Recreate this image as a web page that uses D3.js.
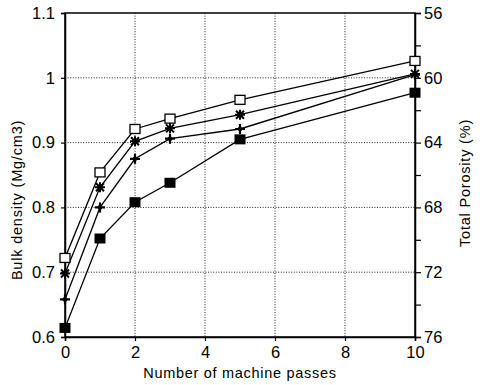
<!DOCTYPE html>
<html><head><meta charset="utf-8">
<script src="https://cdn.jsdelivr.net/npm/d3@7"></script>
<style>body{margin:0;background:#fff;} svg{display:block;}</style>
</head><body><svg id="c" width="480" height="385"></svg>
<script>
const passes = [0, 1, 2, 3, 5, 10];
const seriesOpenSquare = [0.722, 0.854, 0.921, 0.937, 0.966, 1.026];
const seriesAsterisk   = [0.698, 0.831, 0.902, 0.922, 0.943, 1.006];
const seriesPlus       = [0.658, 0.800, 0.875, 0.906, 0.921, 1.005];
const seriesFilled     = [0.614, 0.752, 0.808, 0.838, 0.905, 0.977];
const xTicks = [0, 2, 4, 6, 8, 10];
const yTicks = [0.6, 0.7, 0.8, 0.9, 1.0, 1.1];
const yTickLabels = ["0.6", "0.7", "0.8", "0.9", "1", "1.1"];
const porTicks = [56, 58, 60, 62, 64, 66, 68, 70, 72, 74, 76];
const porLabels = [56, 60, 64, 68, 72, 76];

const svg = d3.select("#c");
const L = 65, R = 415, T = 13, B = 337;
const x = d3.scaleLinear().domain([0, 10]).range([L, R]);
const y = d3.scaleLinear().domain([0.6, 1.1]).range([B, T]);
const yp = d3.scaleLinear().domain([56, 76]).range([T, B]);
const font = "'Liberation Sans', Arial, sans-serif";

// grid
const g = svg.append("g");
g.selectAll(".gx").data(xTicks.slice(1, -1)).join("line")
  .attr("x1", d => x(d)).attr("x2", d => x(d)).attr("y1", T).attr("y2", B)
  .attr("stroke", "#222").attr("stroke-width", 1).attr("stroke-dasharray", "1,1.6");
g.selectAll(".gy").data(yTicks.slice(1, -1)).join("line")
  .attr("y1", d => y(d)).attr("y2", d => y(d)).attr("x1", L).attr("x2", R)
  .attr("stroke", "#222").attr("stroke-width", 1).attr("stroke-dasharray", "1,1.6");

// frame
svg.append("rect").attr("x", L).attr("y", T).attr("width", R - L).attr("height", B - T)
  .attr("fill", "none").attr("stroke", "#000").attr("stroke-width", 1.5);

// axes
const ax = svg.append("g").attr("transform", `translate(0,${B})`)
  .call(d3.axisBottom(x).tickValues(xTicks).tickFormat(d3.format("d")).tickSize(4).tickPadding(5));
const ay = svg.append("g").attr("transform", `translate(${L},0)`)
  .call(d3.axisLeft(y).tickValues(yTicks).tickFormat((d, i) => yTickLabels[i]).tickSize(4).tickPadding(6));
const ar = svg.append("g").attr("transform", `translate(${R},0)`)
  .call(d3.axisRight(yp).tickValues(porTicks).tickFormat(d => porLabels.includes(d) ? d : "").tickSize(6).tickPadding(3));
[ax, ay, ar].forEach(a => {
  a.select(".domain").attr("stroke", "#000").attr("stroke-width", 1.5);
  a.selectAll(".tick line").attr("stroke", "#000").attr("stroke-width", 1.2);
  a.selectAll("text").attr("font-family", font).attr("font-size", 16.5).attr("fill", "#000");
});

// titles
svg.append("text").attr("x", x(5)).attr("y", 378).attr("text-anchor", "middle")
  .attr("font-family", font).attr("font-size", 14.5).attr("letter-spacing", 0.7)
  .text("Number of machine passes");
svg.append("text").attr("transform", `translate(22,${(T + B) / 2 + 25}) rotate(-90)`)
  .attr("text-anchor", "middle").attr("font-family", font).attr("font-size", 14.5)
  .attr("letter-spacing", 0.8).text("Bulk density (Mg/cm3)");
svg.append("text").attr("transform", `translate(470,${(T + B) / 2 + 8}) rotate(-90)`)
  .attr("text-anchor", "middle").attr("font-family", font).attr("font-size", 14.5)
  .attr("letter-spacing", 0.8).text("Total Porosity (%)");

// series
const series = [
  { vals: seriesOpenSquare, m: "osq" },
  { vals: seriesAsterisk, m: "ast" },
  { vals: seriesPlus, m: "plus" },
  { vals: seriesFilled, m: "fsq" }
];
const line = d3.line().x((d, i) => x(passes[i])).y(d => y(d));
series.forEach(s => {
  svg.append("path").datum(s.vals).attr("d", line).attr("fill", "none")
    .attr("stroke", "#000").attr("stroke-width", 1.3);
});
series.forEach(s => {
  const pts = svg.append("g").selectAll("g").data(s.vals).join("g")
    .attr("transform", (d, i) => `translate(${x(passes[i])},${y(d)})`);
  if (s.m === "osq") {
    pts.append("rect").attr("x", -5).attr("y", -4.5).attr("width", 10).attr("height", 9)
      .attr("fill", "#fff").attr("stroke", "#000").attr("stroke-width", 1.3);
  } else if (s.m === "fsq") {
    pts.append("rect").attr("x", -5.5).attr("y", -5).attr("width", 11).attr("height", 10)
      .attr("fill", "#000");
  } else if (s.m === "ast") {
    pts.append("path").attr("d", "M-5,0H5M0,-5V5M-4,-4L4,4M-4,4L4,-4")
      .attr("stroke", "#000").attr("stroke-width", 2);
  } else {
    pts.append("path").attr("d", "M-5,0H5M0,-5V5")
      .attr("stroke", "#000").attr("stroke-width", 2.2);
    pts.append("circle").attr("r", 2.3).attr("fill", "#000");
  }
});
</script></body></html>
